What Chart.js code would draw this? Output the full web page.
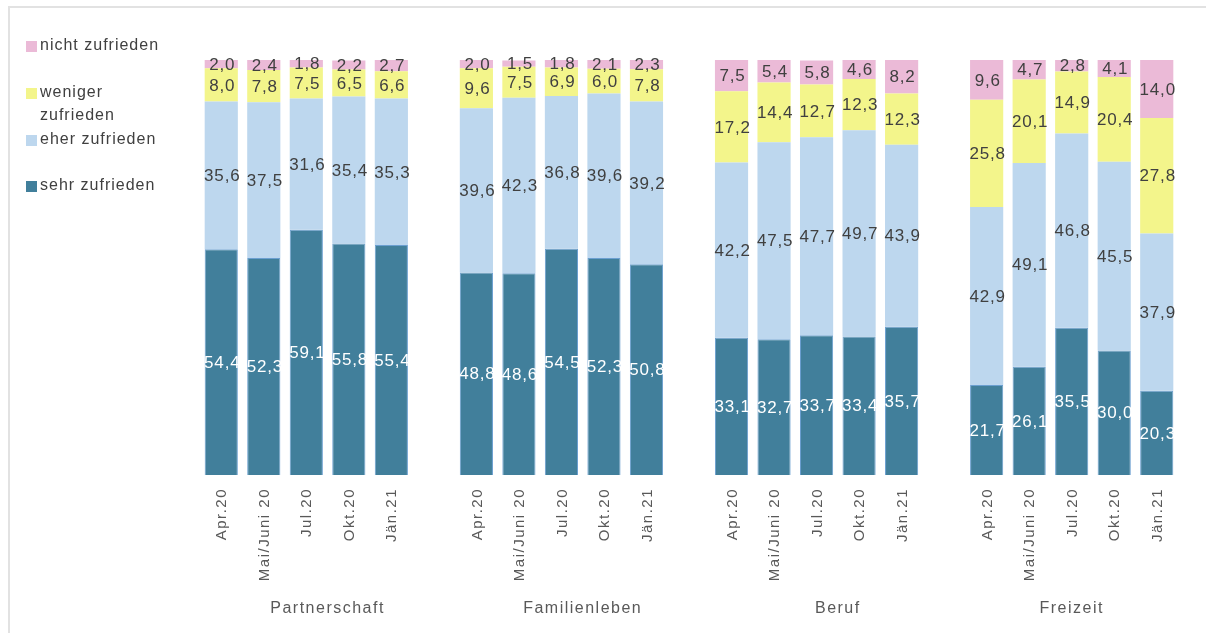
<!DOCTYPE html>
<html>
<head>
<meta charset="utf-8">
<script src="https://cdn.jsdelivr.net/npm/chart.js@4.4.1/dist/chart.umd.min.js"></script>
<style>
  body { margin: 0; background: #fff; }
  #frame { position: absolute; left: 8px; top: 6px; width: 1198px; height: 627px;
           border-top: 2px solid #e2e2e2; border-left: 2px solid #e2e2e2; }
  #wrap { position: absolute; left: 0; top: 0; width: 1206px; height: 633px; }
</style>
</head>
<body>
<div id="frame"></div>
<div id="wrap"><canvas id="chart" width="1206" height="633"></canvas></div>
<script>
var periods = ['Apr.20', 'Mai/Juni 20', 'Jul.20', 'Okt.20', 'Jän.21'];
var areas = ['Partnerschaft', 'Familienleben', 'Beruf', 'Freizeit'];

var sehr = [
  [54.4, 52.3, 59.1, 55.8, 55.4],
  [48.8, 48.6, 54.5, 52.3, 50.8],
  [33.1, 32.7, 33.7, 33.4, 35.7],
  [21.7, 26.1, 35.5, 30.0, 20.3]
];
var eher = [
  [35.6, 37.5, 31.6, 35.4, 35.3],
  [39.6, 42.3, 36.8, 39.6, 39.2],
  [42.2, 47.5, 47.7, 49.7, 43.9],
  [42.9, 49.1, 46.8, 45.5, 37.9]
];
var weniger = [
  [8.0, 7.8, 7.5, 6.5, 6.6],
  [9.6, 7.5, 6.9, 6.0, 7.8],
  [17.2, 14.4, 12.7, 12.3, 12.3],
  [25.8, 20.1, 14.9, 20.4, 27.8]
];
var nicht = [
  [2.0, 2.4, 1.8, 2.2, 2.7],
  [2.0, 1.5, 1.8, 2.1, 2.3],
  [7.5, 5.4, 5.8, 4.6, 8.2],
  [9.6, 4.7, 2.8, 4.1, 14.0]
];

// flatten the groups, one empty slot between groups
var labels = [];
var groupSpans = [];
function flat(arr) {
  var out = [];
  arr.forEach(function(g, gi) {
    g.forEach(function(v) { out.push(v); });
    if (gi < arr.length - 1) out.push(null);
  });
  return out;
}
areas.forEach(function(a, gi) {
  var start = labels.length;
  periods.forEach(function(p) { labels.push(p); });
  if (gi < areas.length - 1) labels.push('');
  groupSpans.push([start, labels.length - 1]);
});

var FONT = '"Liberation Sans", Arial, sans-serif';

var extras = {
  id: 'extras',
  afterDatasetsDraw: function(chart) {
    var ctx = chart.ctx;
    var x = chart.scales.x;
    ctx.save();
    // value labels
    ctx.letterSpacing = '0.8px';
    ctx.font = '17px ' + FONT;
    ctx.textAlign = 'center';
    ctx.textBaseline = 'middle';
    chart.data.datasets.forEach(function(ds, di) {
      var meta = chart.getDatasetMeta(di);
      meta.data.forEach(function(bar, i) {
        var v = ds.data[i];
        if (v === null) return;
        var mid = (bar.y + bar.base) / 2;
        ctx.fillStyle = di === 0 ? '#ffffff' : '#404040';
        ctx.fillText(v.toFixed(1).replace('.', ','), bar.x + 1, mid + 1);
      });
    });
    // rotated category labels
    ctx.fillStyle = '#595959';
    ctx.font = '15px ' + FONT;
    ctx.letterSpacing = '1.5px';
    labels.forEach(function(l, i) {
      if (!l) return;
      ctx.save();
      ctx.translate(x.getPixelForValue(i) + 1, 488);
      ctx.rotate(-Math.PI / 2);
      ctx.textAlign = 'right';
      ctx.textBaseline = 'middle';
      ctx.fillText(l, 0, 0);
      ctx.restore();
    });
    // group labels
    ctx.font = '16px ' + FONT;
    ctx.textAlign = 'center';
    ctx.textBaseline = 'middle';
    areas.forEach(function(a, gi) {
      var s = groupSpans[gi];
      var cx = (x.getPixelForValue(s[0]) + x.getPixelForValue(s[1])) / 2;
      ctx.fillText(a, cx, 609);
    });
    // legend
    var items = [
      { ds: 3, lines: ['nicht zufrieden'], y: 46 },
      { ds: 2, lines: ['weniger', 'zufrieden'], y: 93 },
      { ds: 1, lines: ['eher zufrieden'], y: 140 },
      { ds: 0, lines: ['sehr zufrieden'], y: 186 }
    ];
    ctx.font = '16px ' + FONT;
    ctx.letterSpacing = '1px';
    ctx.textAlign = 'left';
    items.forEach(function(it) {
      ctx.fillStyle = chart.data.datasets[it.ds].backgroundColor;
      ctx.fillRect(26, it.y - 5, 11, 11);
      ctx.fillStyle = '#404040';
      it.lines.forEach(function(t, li) {
        ctx.fillText(t, 40, it.y + li * 23);
      });
    });
    ctx.restore();
  }
};

new Chart(document.getElementById('chart'), {
  type: 'bar',
  data: {
    labels: labels,
    datasets: [
      { label: 'sehr zufrieden', data: flat(sehr), backgroundColor: '#417f9b', borderColor: '#6b9fd0', borderWidth: 1 },
      { label: 'eher zufrieden', data: flat(eher), backgroundColor: '#bdd7ee', borderWidth: 0 },
      { label: 'weniger zufrieden', data: flat(weniger), backgroundColor: '#f3f58b', borderWidth: 0 },
      { label: 'nicht zufrieden', data: flat(nicht), backgroundColor: '#ebbad7', borderWidth: 0 }
    ]
  },
  options: {
    responsive: false,
    animation: false,
    layout: { padding: { left: 200, right: 28, top: 60, bottom: 158 } },
    datasets: { bar: { barPercentage: 0.78, categoryPercentage: 1.0 } },
    plugins: { legend: { display: false }, tooltip: { enabled: false } },
    scales: {
      x: { stacked: true, display: false },
      y: { stacked: true, display: false, min: 0, max: 100 }
    }
  },
  plugins: [extras]
});
</script>
</body>
</html>
